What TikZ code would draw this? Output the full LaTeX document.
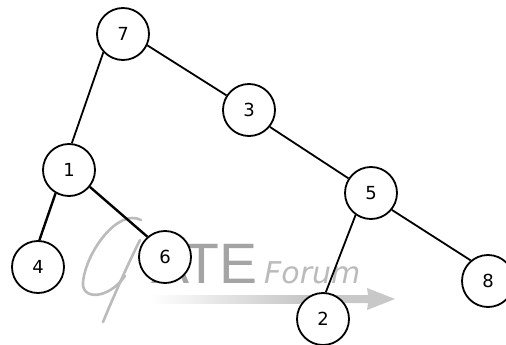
\documentclass[tikz,border=0pt]{standalone}
\usepackage{fontspec}
\newfontfamily\labfont{DejaVu Sans}
\newfontfamily\wmfont{Liberation Sans}
\newfontfamily\wmfontb{DejaVu Sans}
\definecolor{wmgray}{HTML}{A4A4A4}
\definecolor{wmlight}{HTML}{BBBBBB}
\definecolor{wmarrow}{HTML}{C8C8C8}
\tikzset{
  tnode/.style={circle, draw=black, fill=white, line width=1.8pt, minimum size=52pt, inner sep=0pt, font=\labfont\fontsize{18}{20}\selectfont},
  edge/.style={line width=1.8pt, black},
  thickedge/.style={line width=2.4pt, black},
  wmstroke/.style={draw=wmlight, line width=2.6pt, line cap=round}
}
\begin{document}
\begin{tikzpicture}[x=1pt,y=-1pt]
\clip (0,0) rectangle (506,345);
\fill[white] (0,0) rectangle (506,345);
% watermark
\path[wmstroke] (141,220) .. controls (118,208) and (86,252) .. (83,282) .. controls (81,300) and (108,300) .. (125,276);
\path[wmstroke] (140,240) .. controls (126,268) and (113,298) .. (103,322);
\node[anchor=base east, inner sep=0pt, text=wmgray, font=\wmfont\fontsize{57}{60}\selectfont] (wmate) at (258,283) {ATE};
\node[anchor=base west, inner sep=0pt, text=wmlight, font=\wmfontb\itshape\fontsize{30}{32}\selectfont] (wmforum) at (264,283) {Forum};
\shade[left color=white, right color=wmarrow] (150,295) rectangle (300,303);
\fill[wmarrow] (299,295) -- (368,295) -- (367,288) -- (395,299) -- (367,310) -- (368,303) -- (299,303) -- cycle;
% nodes
\node[tnode] (n7) at (123,34) {7};
\node[tnode] (n3) at (249,110) {3};
\node[tnode] (n1) at (69,170) {1};
\node[tnode] (n4) at (38,267) {4};
\node[tnode] (n6) at (165,257) {6};
\node[tnode] (n5) at (371,193) {5};
\node[tnode] (n2) at (323,319) {2};
\node[tnode] (n8) at (488,281) {8};
% edges
\draw[edge] (n7.223.5) -- (n1.84);
\draw[edge] (n7.-25) -- (n3.147);
\draw[edge] (n3.-39.5) -- (n5.147);
\draw[edge] (n5.235) -- (n2.84);
\draw[edge] (n5.-39.5) -- (n8.130);
\draw[thickedge] (n1.240) -- (n4.87);
\draw[thickedge] (n1.-39.5) -- (n6.131);
\end{tikzpicture}
\end{document}
